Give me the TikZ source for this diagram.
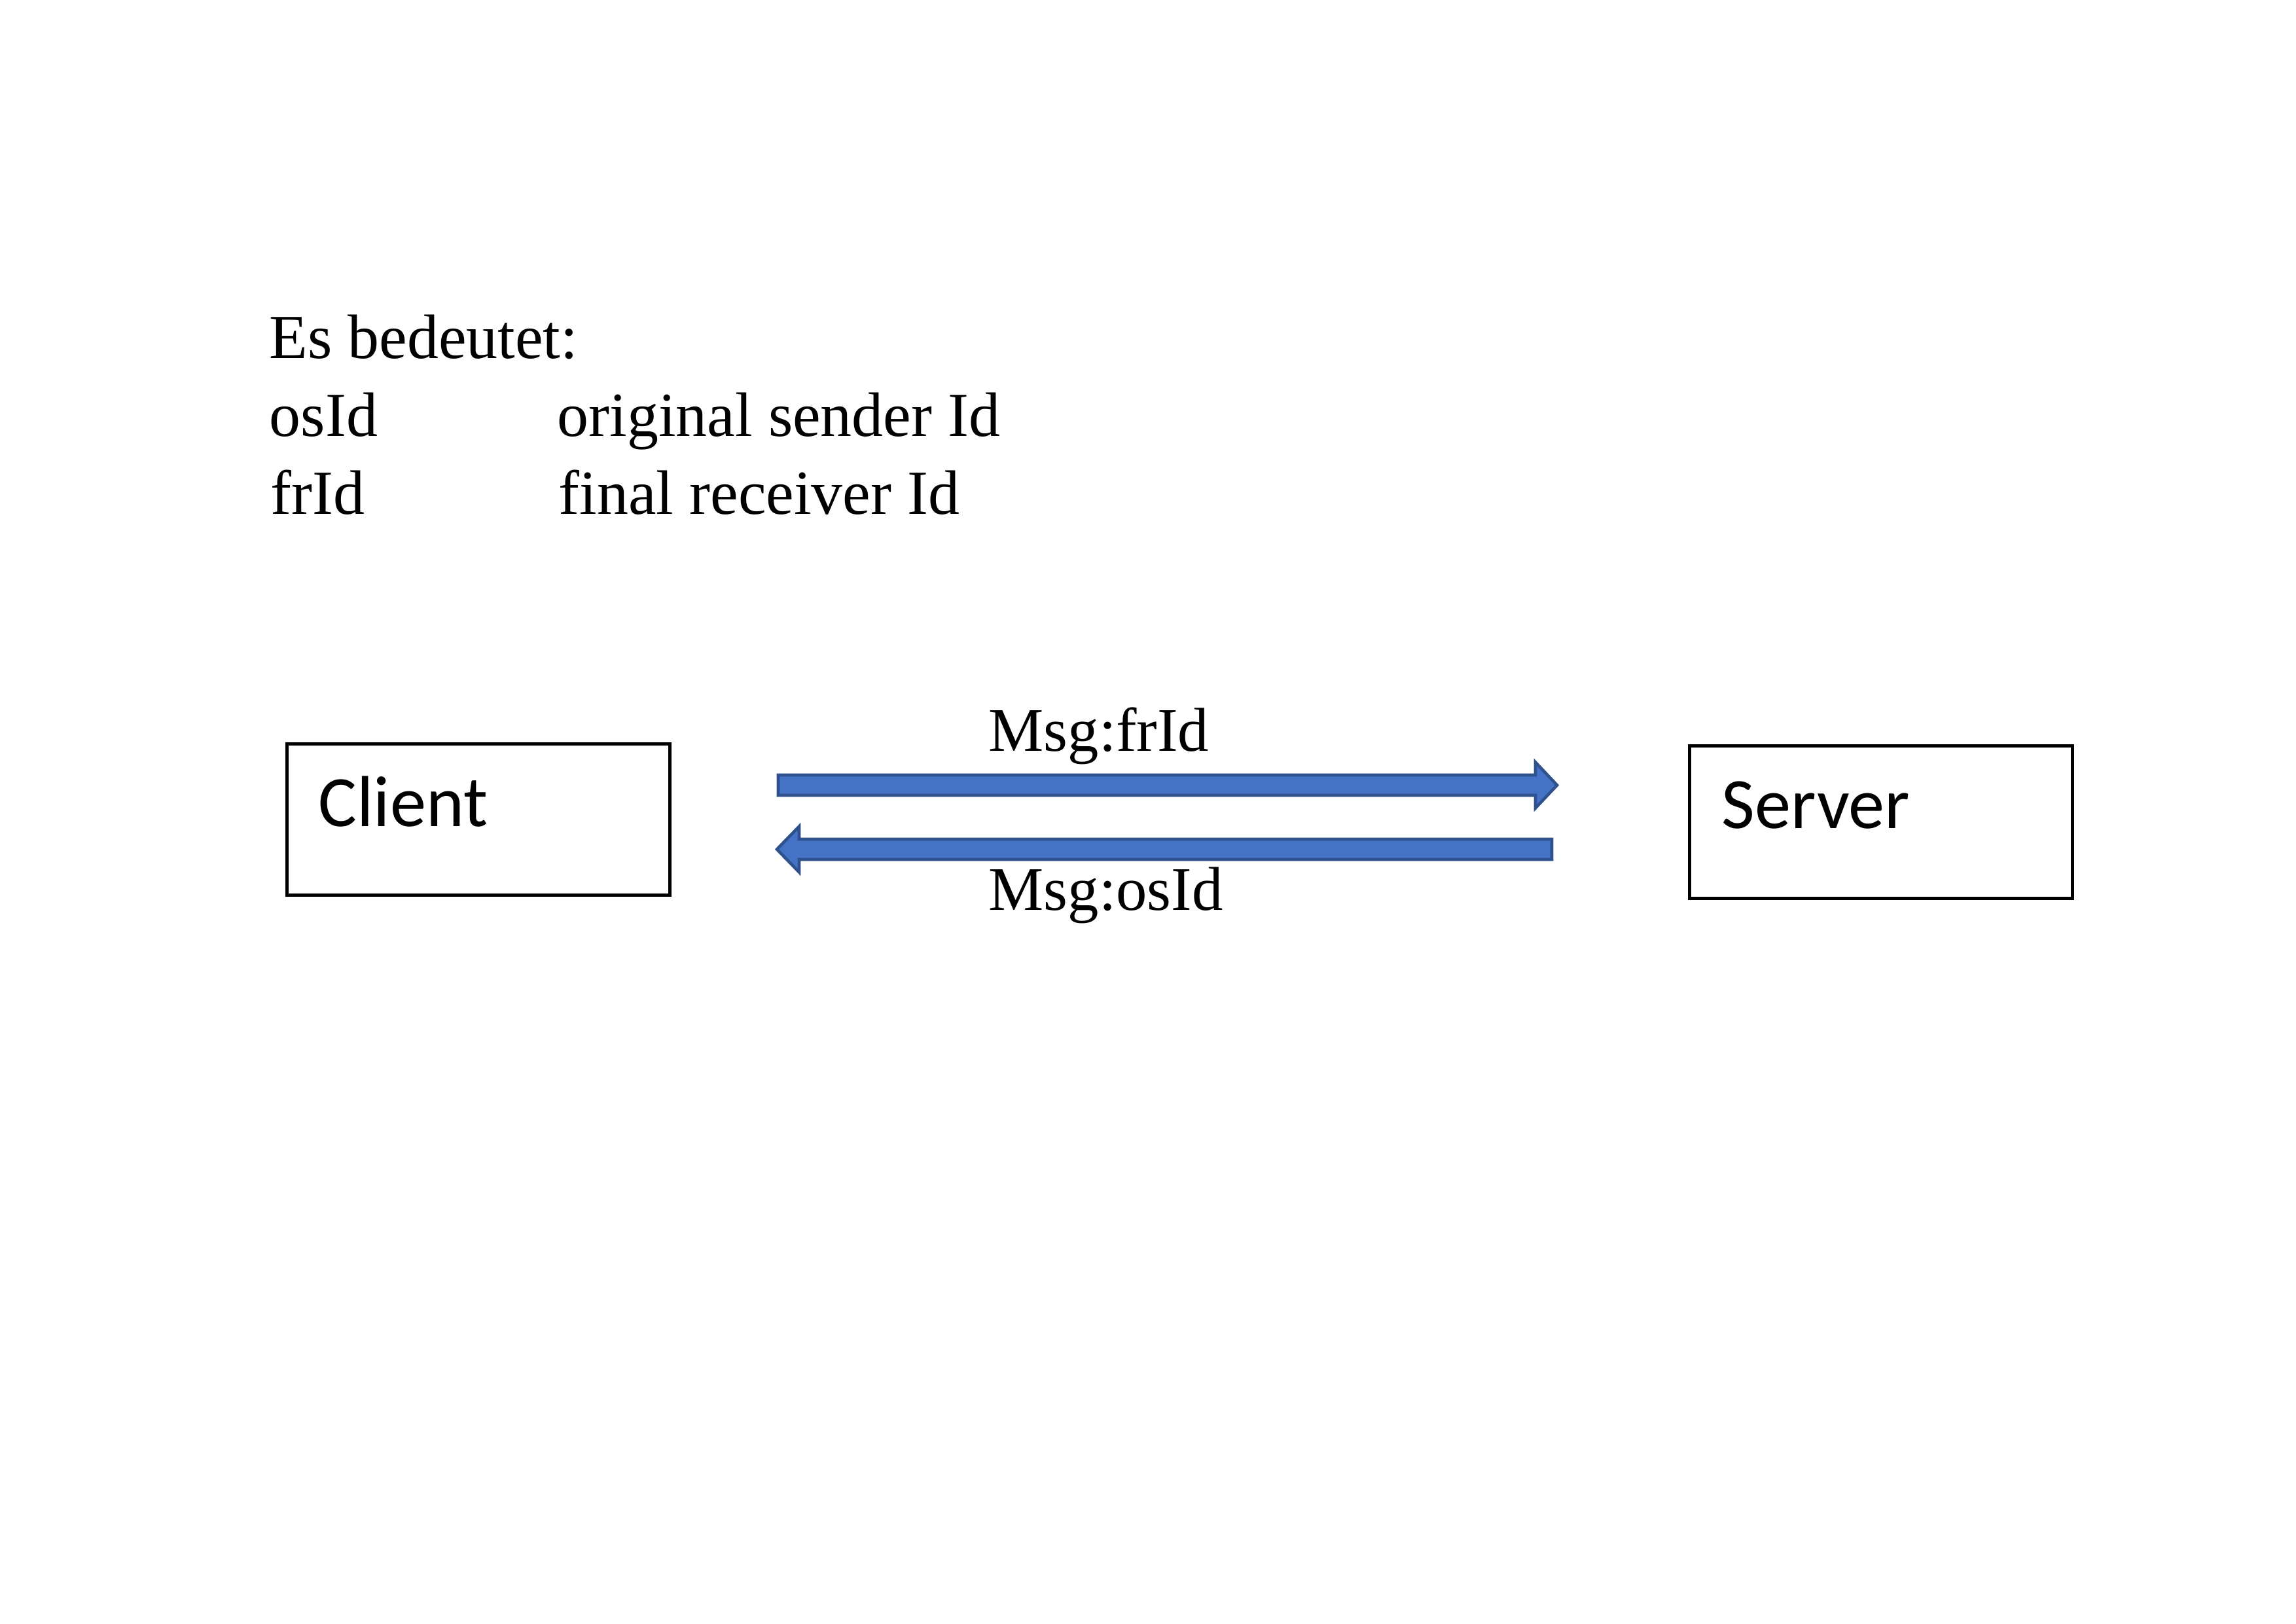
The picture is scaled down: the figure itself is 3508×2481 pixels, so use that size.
\documentclass[tikz,border=0pt]{standalone}
\usepackage{fontspec}
\setmainfont{Liberation Serif}
\newfontfamily\calibrifont{Carlito}
\usetikzlibrary{calc}
\definecolor{arrowfill}{RGB}{68,114,196}
\definecolor{arrowline}{RGB}{47,82,143}
\tikzset{
  legendtext/.style={anchor=base west, inner sep=0pt, font=\fontsize{23.1}{27}\selectfont},
  msglabel/.style={anchor=base west, inner sep=0pt, font=\fontsize{22.8}{27}\selectfont},
  boxnode/.style={draw=black, line width=1.1pt, rectangle, inner sep=0pt},
  boxlabel/.style={anchor=base west, inner sep=0pt, font=\calibrifont\fontsize{26.6}{30}\selectfont},
  fatarrow/.style={fill=arrowfill, draw=arrowline, line width=1.1pt, line join=miter}
}
\begin{document}
\begin{tikzpicture}[x=0.0846636mm, y=-0.0846636mm]
\useasboundingbox (0,0) rectangle (3508,2481);
% legend
\node[legendtext] (title) at (411,548) {Es bedeutet:};
\node[legendtext] (os) at (411,667) {osId};
\node[legendtext] (osdesc) at (851,667) {original sender Id};
\node[legendtext] (fr) at (413,786) {frId};
\node[legendtext] (frdesc) at (853,786) {final receiver Id};
% boxes
\node[boxnode, minimum width=585*0.0846636mm, minimum height=231*0.0846636mm, anchor=north west] (client) at (436,1134) {};
\node[boxlabel] (clientlabel) at (486,1263) {Client};
\node[boxnode, minimum width=585*0.0846636mm, minimum height=233*0.0846636mm, anchor=north west] (server) at (2579,1137) {};
\node[boxlabel] (serverlabel) at (2630,1266) {Server};
% arrow ends
\coordinate (f1s) at (1189,1199.5);
\coordinate (f1e) at (2379,1199.5);
\coordinate (f2s) at (2371,1297.5);
\coordinate (f2e) at (1187,1297.5);
% forward arrow
\path[fatarrow] ($(f1s)+(0,-15.5)$) -- ($(f1e)+(-33,-15.5)$) -- ($(f1e)+(-33,-35)$) -- (f1e)
  -- ($(f1e)+(-33,35)$) -- ($(f1e)+(-33,15.5)$) -- ($(f1s)+(0,15.5)$) -- cycle;
% backward arrow
\path[fatarrow] ($(f2s)+(0,-15.5)$) -- ($(f2e)+(34,-15.5)$) -- ($(f2e)+(34,-35)$) -- (f2e)
  -- ($(f2e)+(34,35)$) -- ($(f2e)+(34,15.5)$) -- ($(f2s)+(0,15.5)$) -- cycle;
% labels
\node[msglabel] (msgfr) at (1510,1148) {Msg:frId};
\node[msglabel] (msgos) at (1510,1390) {Msg:osId};
\end{tikzpicture}
\end{document}
